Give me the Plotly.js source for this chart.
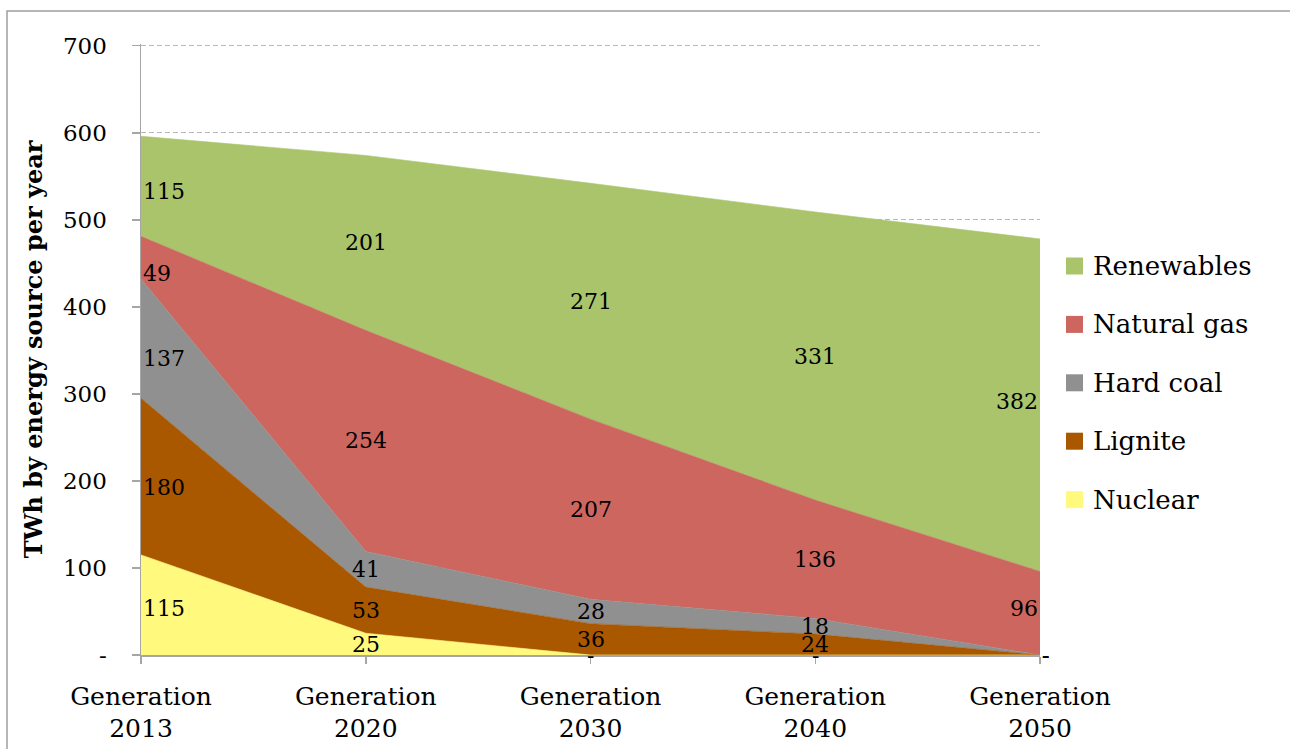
<!DOCTYPE html>
<html>
<head>
<meta charset="utf-8">
<script src="https://cdn.plot.ly/plotly-3.0.1.min.js"></script>
<style>
  html, body { margin: 0; padding: 0; background: #ffffff; }
  #chart { width: 1290px; height: 749px; }
</style>
</head>
<body>
<div id="chart"></div>
<script>
// Electricity generation by energy source, TWh per year
const categories = ["Generation<br>2013", "Generation<br>2020", "Generation<br>2030", "Generation<br>2040", "Generation<br>2050"];

const nuclear    = [115, 25, 0, 0, 0];
const lignite    = [180, 53, 36, 24, 0];
const hardCoal   = [137, 41, 28, 18, 0];
const naturalGas = [49, 254, 207, 136, 96];
const renewables = [115, 201, 271, 331, 382];

const yTickValues = [0, 100, 200, 300, 400, 500, 600, 700];
const yTickLabels = ["-", "100", "200", "300", "400", "500", "600", "700"];

// stacking order, bottom to top
const seriesNames  = ["Nuclear", "Lignite", "Hard coal", "Natural gas", "Renewables"];
const seriesValues = [nuclear, lignite, hardCoal, naturalGas, renewables];
const seriesColors = ["#FFFA7D", "#A95800", "#909090", "#CD665F", "#AAC46C"];

const FONT = "DejaVu Serif";
const xIdx = categories.map((_, i) => i);

const traces = seriesValues.map((vals, k) => ({
  type: "scatter",
  mode: "lines",
  x: xIdx,
  y: vals,
  name: seriesNames[k],
  stackgroup: "stack",
  fillcolor: seriesColors[k],
  line: { color: seriesColors[k], width: 0.6 },
  hoverinfo: "skip",
  showlegend: false
}));

// cumulative bottoms per series
const bottoms = seriesValues.map((_, k) =>
  xIdx.map(i => seriesValues.slice(0, k).reduce((s, v) => s + v[i], 0)));

// label centre of series k at fractional position t between categories
function midAt(k, t) {
  const i0 = Math.floor(t), i1 = Math.min(i0 + 1, xIdx.length - 1);
  const f = t - i0;
  const lo = bottoms[k][i0] * (1 - f) + bottoms[k][i1] * f;
  const hi = (bottoms[k][i0] + seriesValues[k][i0]) * (1 - f) + (bottoms[k][i1] + seriesValues[k][i1]) * f;
  return (lo + hi) / 2;
}

const annotations = [];
const inset = 0.085;
const last = xIdx.length - 1;
seriesValues.forEach((vals, k) => {
  vals.forEach((v, i) => {
    let anchor = "center", t = i;
    if (i === 0) { anchor = "left"; t = inset; }
    else if (i === last) { anchor = "right"; t = last - inset; }
    const y = v === 0 ? 0 : midAt(k, t);
    annotations.push({
      x: i, y: y, xref: "x", yref: "y",
      text: v === 0 ? "-" : String(v),
      showarrow: false,
      xanchor: v === 0 && i === last ? "left" : anchor,
      yanchor: "middle",
      font: { family: FONT, size: 22, color: "#000000" }
    });
  });
});

// plot area in pixels; the y range runs slightly past 700 so its gridline shows
const plotL = 141, plotR = 1040, plotT = 44, plotB = 655;
const px = x => (x - plotL) / (plotR - plotL);
const py = y => (plotB - y) / (plotB - plotT);

// legend built at the right, top entry = top of the stack
const shapes = [];
const legendOrder = seriesNames.map((_, k) => k).reverse();
legendOrder.forEach((k, j) => {
  const cy = 266 + j * 58.4;
  shapes.push({
    type: "rect", xref: "paper", yref: "paper",
    x0: px(1066), x1: px(1083), y0: py(cy + 8.5), y1: py(cy - 8.5),
    fillcolor: seriesColors[k], line: { width: 0 }
  });
  annotations.push({
    xref: "paper", yref: "paper", x: px(1091), y: py(cy),
    xanchor: "left", yanchor: "middle", showarrow: false,
    text: seriesNames[k],
    font: { family: FONT, size: 26, color: "#000000" }
  });
});

// outer chart frame (runs off the right and bottom edges)
shapes.push({
  type: "rect", xref: "paper", yref: "paper", layer: "below",
  x0: px(7), x1: px(1600), y0: py(1000), y1: py(11),
  line: { color: "#9E9E9E", width: 1.5 }, fillcolor: "rgba(0,0,0,0)"
});

const layout = {
  width: 1290, height: 749,
  margin: { l: plotL, r: 1290 - plotR, t: plotT, b: 749 - plotB },
  paper_bgcolor: "#ffffff",
  plot_bgcolor: "#ffffff",
  showlegend: false,
  font: { family: FONT, color: "#000000" },
  xaxis: {
    type: "linear",
    range: [0, last],
    tickvals: xIdx,
    ticktext: categories,
    tickfont: { family: FONT, size: 25, color: "#000000" },
    ticks: "outside", ticklen: 7, tickcolor: "#A6A6A6", tickwidth: 1.5,
    ticklabelstandoff: 11,
    showline: true, linecolor: "#A6A6A6", linewidth: 1.5,
    showgrid: false, zeroline: false, fixedrange: true
  },
  yaxis: {
    range: [0, 702],
    tickvals: yTickValues,
    ticktext: yTickLabels,
    tickfont: { family: FONT, size: 23, color: "#000000" },
    ticks: "outside", ticklen: 8, tickcolor: "#A6A6A6", tickwidth: 1.5,
    ticklabelstandoff: 20,
    showline: true, linecolor: "#A6A6A6", linewidth: 1.5,
    showgrid: true, gridcolor: "#B8B8B8", gridwidth: 1.3, griddash: "5px,3px",
    zeroline: false, fixedrange: true,
    title: {
      text: "TWh by energy source per year",
      font: { family: FONT, size: 24, color: "#000000", weight: "bold" },
      standoff: 13
    }
  },
  annotations: annotations,
  shapes: shapes
};

Plotly.newPlot("chart", traces, layout, { displayModeBar: false, staticPlot: true });
</script>
</body>
</html>
